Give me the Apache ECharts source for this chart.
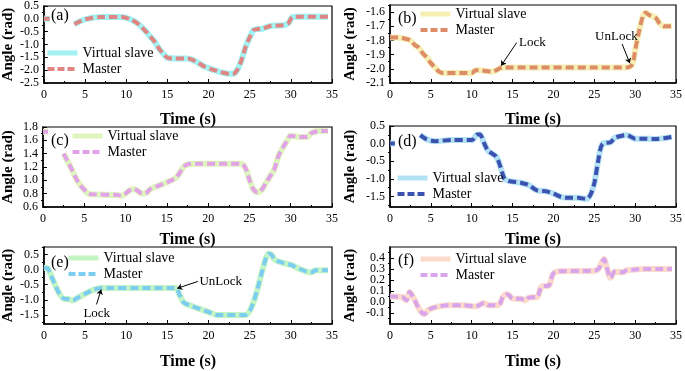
<!DOCTYPE html>
<html>
<head>
<meta charset="utf-8">
<script src="https://cdn.jsdelivr.net/npm/echarts@6/dist/echarts.min.js"></script>
<style>
  html, body { margin: 0; padding: 0; background: #fff; }
  #chart { width: 685px; height: 371px; }
</style>
</head>
<body>
<div id="chart"></div>
<script>
// time (s) / angle (rad); null = part hidden behind the panel label
var timeA = [0, 0.7, 1, 3.7, 5, 7, 9.5, 10.5, 11.5, 12.5, 13, 13.5, 14, 14.5, 15, 16, 17.5, 18.5, 19.5, 21, 22.5, 23, 23.5, 24, 24.5, 25, 25.5, 26, 26.5, 27.5, 29, 29.7, 30.2, 31, 34.5]
var angleA = [0.0, 0.0, null, -0.21, -0.02, 0.07, 0.07, -0.02, -0.21, -0.53, -0.72, -0.91, -1.17, -1.36, -1.51, -1.55, -1.55, -1.67, -1.86, -2.03, -2.14, -2.14, -1.99, -1.61, -1.1, -0.72, -0.43, -0.4, -0.39, -0.28, -0.25, -0.17, 0.07, 0.08, 0.08]

var timeB = [0, 1, 2, 2.5, 3, 3.5, 4, 4.5, 5, 5.5, 6, 6.5, 8, 9.5, 10, 10.5, 11, 12.5, 13, 13.5, 14, 29, 29.5, 29.8, 30, 30.5, 31, 31.3, 31.7, 32.5, 33, 33.5, 34.5]
var angleB = [-1.78, -1.78, -1.79, -1.80, -1.83, -1.85, -1.89, -1.92, -1.96, -1.99, -2.02, -2.03, -2.03, -2.03, -2.03, -2.01, -2.01, -2.02, -2.01, -1.995, -1.99, -1.99, -1.98, -1.94, -1.87, -1.73, -1.62, -1.605, -1.62, -1.64, -1.68, -1.70, -1.70]

var timeC = [0, 0.6, 1, 2.5, 3, 3.5, 4, 4.5, 5, 5.5, 6, 9, 9.5, 10, 10.5, 11, 11.5, 12, 12.5, 13, 14, 15, 16, 16.5, 17, 17.5, 18.5, 24, 24.5, 25, 25.5, 26, 26.5, 27, 27.5, 28, 28.5, 29, 29.5, 30, 31, 32, 32.5, 33.5, 34.5]
var angleC = [1.73, 1.73, null, 1.40, 1.28, 1.16, 1.03, 0.93, 0.86, 0.80, 0.79, 0.78, 0.77, 0.80, 0.85, 0.87, 0.84, 0.80, 0.81, 0.87, 0.92, 0.97, 1.03, 1.10, 1.20, 1.24, 1.25, 1.25, 1.19, 1.01, 0.86, 0.82, 0.86, 0.96, 1.06, 1.16, 1.36, 1.48, 1.58, 1.67, 1.65, 1.65, 1.71, 1.74, 1.74]

var timeD = [0, 0.6, 1, 3.7, 4.5, 5.5, 7.5, 10, 10.7, 11, 11.5, 12, 13, 13.5, 14, 14.5, 16, 17, 18, 19, 20, 21, 22, 23, 24, 24.5, 25, 25.5, 26, 27, 27.5, 28.5, 29, 30, 31, 32.5, 34.5]
var angleD = [0.0, 0.0, null, 0.24, 0.12, 0.07, 0.10, 0.10, 0.26, 0.26, 0.02, -0.20, -0.37, -0.65, -0.99, -1.06, -1.11, -1.18, -1.33, -1.35, -1.42, -1.52, -1.54, -1.54, -1.57, -1.47, -1.13, -0.46, -0.01, 0.04, 0.16, 0.23, 0.24, 0.14, 0.14, 0.13, 0.19]

var timeE = [0, 0.5, 1, 1.5, 2, 2.5, 3, 3.5, 4, 5, 6, 7, 8, 16, 16.5, 17, 18, 19, 20, 21, 24.5, 25, 25.5, 26, 26.5, 27, 27.3, 27.7, 28, 28.5, 29.5, 30, 31, 32, 32.5, 33, 34.5]
var angleE = [0.06, 0.03, -0.28, -0.59, -0.85, -0.97, -0.98, -1.02, -0.95, -0.80, -0.67, -0.61, -0.61, -0.61, -0.85, -1.09, -1.21, -1.31, -1.40, -1.50, -1.50, -1.37, -1.05, -0.59, -0.07, 0.40, 0.53, 0.48, 0.34, 0.27, 0.19, 0.16, 0.03, -0.07, -0.09, -0.02, -0.02]

var timeF = [0, 1.5, 2, 2.4, 2.8, 3.2, 3.7, 4.2, 4.6, 5, 6, 7, 9, 10.5, 11.5, 12, 13, 13.5, 13.8, 14.3, 14.6, 15, 16, 16.5, 17, 18, 18.4, 18.7, 19.3, 19.6, 19.9, 20.3, 21, 25, 25.5, 26, 26.2, 26.5, 27, 27.5, 28.5, 29, 30, 31, 33, 34.5]
var angleF = [0.05, 0.045, 0.016, 0.09, 0.05, -0.01, -0.08, -0.11, -0.08, -0.06, -0.04, -0.03, -0.03, -0.04, -0.01, -0.03, -0.03, -0.01, 0.045, 0.07, 0.06, 0.03, 0.03, 0.016, 0.04, 0.045, 0.12, 0.145, 0.145, 0.17, 0.25, 0.275, 0.28, 0.285, 0.30, 0.37, 0.39, 0.32, 0.22, 0.275, 0.27, 0.29, 0.295, 0.30, 0.30, 0.30]

// y tick labels per panel
var yTicksA = [-2.5, -2.0, -1.5, -1.0, -0.5, 0.0, 0.5]
var yTicksB = [-2.1, -2.0, -1.9, -1.8, -1.7, -1.6]
var yTicksC = [0.6, 0.8, 1.0, 1.2, 1.4, 1.6, 1.8]
var yTicksD = [-1.5, -1.0, -0.5, 0.0, 0.5]
var yTicksE = [-1.5, -1.0, -0.5, 0.0, 0.5]
var yTicksF = [-0.2, -0.1, 0.0, 0.1, 0.2, 0.3, 0.4, 0.5]

var FONT = '"Liberation Serif", "Times New Roman", serif'

var panels = [
  { key: 'a', time: timeA, angle: angleA, ticks: yTicksA, min: -2.5, max: 0.5,
    grid: { left: 43, top: 5, width: 289, height: 78 }, xGap: 29, yGap: 27,
    slave: '#a3f2f2', master: '#e08484', legend: { left: 45, top: 46 }, label: { left: 51, top: 8 } },
  { key: 'b', time: timeB, angle: angleB, ticks: yTicksB, min: -2.1, max: -1.55,
    grid: { left: 390, top: 5, width: 290, height: 78 }, xGap: 29, yGap: 32,
    slave: '#f6efb3', master: '#dc8c68', legend: { left: 418, top: 7 }, label: { left: 398, top: 11 } },
  { key: 'c', time: timeC, angle: angleC, ticks: yTicksC, min: 0.6, max: 1.8,
    grid: { left: 43, top: 127, width: 289, height: 80 }, xGap: 25, yGap: 27,
    slave: '#def4bd', master: '#e2a2e8', legend: { left: 70, top: 129 }, label: { left: 51, top: 133 } },
  { key: 'd', time: timeD, angle: angleD, ticks: yTicksD, min: -1.8, max: 0.5,
    grid: { left: 390, top: 126, width: 290, height: 81 }, xGap: 25, yGap: 32,
    slave: '#b3e2f4', master: '#3d52b0', legend: { left: 395, top: 171 }, label: { left: 398, top: 134 } },
  { key: 'e', time: timeE, angle: angleE, ticks: yTicksE, min: -1.8, max: 0.75,
    grid: { left: 43, top: 247, width: 289, height: 81 }, xGap: 30, yGap: 27,
    slave: '#c3f4c3', master: '#7ccdf0', legend: { left: 66, top: 251 }, label: { left: 51, top: 255 } },
  { key: 'f', time: timeF, angle: angleF, ticks: yTicksF, min: -0.2, max: 0.5,
    grid: { left: 390, top: 247, width: 290, height: 81 }, xGap: 30, yGap: 32,
    slave: '#fbdacb', master: '#d8a4ec', legend: { left: 418, top: 252 }, label: { left: 398, top: 253 } }
]

// Lock / UnLock notes in data coordinates: text anchor, arrow start, arrow end
var notesB = [
  { text: 'Lock', at: [15.8, -1.815], from: [15.5, -1.815], to: [13.6, -1.978] },
  { text: 'UnLock', at: [25.1, -1.775], from: [28.4, -1.825], to: [29.35, -1.96] }
]
var notesE = [
  { text: 'Lock', at: [4.8, -1.47], from: [6.4, -1.15], to: [6.95, -0.66] },
  { text: 'UnLock', at: [18.9, -0.39], from: [18.7, -0.39], to: [16.2, -0.62] }
]

function minors(ticks, min, max) {
  var step = ticks[1] - ticks[0]
  var out = []
  for (var v = ticks[0] - step / 2; v <= max + 1e-9; v += step) {
    if (v >= min - 1e-9) out.push(+v.toFixed(4))
  }
  return out
}

function notesFor(notes) {
  if (!notes) return {}
  return {
    markLine: {
      silent: true,
      symbol: ['none', 'arrow'],
      symbolSize: 5,
      label: { show: false },
      lineStyle: { color: '#000', width: 1, type: 'solid' },
      data: notes.map(function (n) {
        return [{ coord: n.from }, { coord: n.to }]
      })
    },
    markPoint: {
      silent: true,
      symbol: 'circle',
      symbolSize: 0,
      label: {
        show: true, position: [0, 0], align: 'left', verticalAlign: 'middle',
        fontFamily: FONT, fontSize: 13, color: '#000',
        formatter: function (p) { return p.name }
      },
      data: notes.map(function (n) {
        return { name: n.text, coord: n.at }
      })
    }
  }
}

var option = {
  backgroundColor: '#fff',
  animation: false,
  grid: [], xAxis: [], yAxis: [], series: [], legend: [], title: []
}

panels.forEach(function (p, i) {
  var data = p.time.map(function (t, k) {
    return [t, p.angle[k] === null ? '-' : p.angle[k]]
  })
  var axisLine = { onZero: false, lineStyle: { color: '#000', width: 1.5 } }
  var tickLabel = { fontFamily: FONT, fontSize: 12, color: '#000' }
  var nameStyle = { fontFamily: FONT, fontWeight: 'bold', fontSize: 16, color: '#000' }

  option.grid.push(Object.assign({ show: true, borderColor: '#000', borderWidth: 1.2 }, p.grid))
  option.xAxis.push({
    gridIndex: i, type: 'value', min: 0, max: 35, interval: 5,
    axisLine: axisLine,
    axisTick: { inside: true, length: 4, lineStyle: { color: '#000' } },
    minorTick: { show: true, splitNumber: 2, length: 2, lineStyle: { color: '#000' } },
    splitLine: { show: false },
    axisLabel: Object.assign({ margin: 6 }, tickLabel),
    name: 'Time (s)', nameLocation: 'middle', nameGap: p.xGap, nameTextStyle: nameStyle
  })
  option.yAxis.push({
    gridIndex: i, type: 'value', min: p.min, max: p.max,
    axisLine: axisLine,
    axisTick: { inside: true, length: 4, customValues: p.ticks, lineStyle: { color: '#000' } },
    splitLine: { show: false },
    axisLabel: Object.assign({
      margin: 5, customValues: p.ticks,
      formatter: function (v) { return v.toFixed(1) }
    }, tickLabel),
    name: 'Angle (rad)', nameLocation: 'middle', nameGap: p.yGap,
    nameTextStyle: Object.assign({}, nameStyle, { fontSize: 15 })
  })
  option.yAxis.push({
    gridIndex: i, type: 'value', min: p.min, max: p.max,
    axisLine: { show: false },
    axisTick: { inside: true, length: 2, customValues: minors(p.ticks, p.min, p.max), lineStyle: { color: '#000' } },
    axisLabel: { show: false },
    splitLine: { show: false }
  })

  var notes = p.key === 'b' ? notesB : (p.key === 'e' ? notesE : null)
  option.series.push({
    name: 'Virtual slave|' + p.key, type: 'line', xAxisIndex: i, yAxisIndex: 2 * i,
    data: data, symbol: 'none', smooth: 0.3, z: 2,
    lineStyle: { color: p.slave, width: 6 }, itemStyle: { color: p.slave }
  })
  option.series.push(Object.assign({
    name: 'Master|' + p.key, type: 'line', xAxisIndex: i, yAxisIndex: 2 * i,
    data: data, symbol: 'none', smooth: 0.3, z: 3,
    lineStyle: { color: p.master, width: 4, type: [8, 4] }, itemStyle: { color: p.master }
  }, notesFor(notes)))

  option.legend.push({
    left: p.legend.left, top: p.legend.top, orient: 'vertical', padding: 0,
    itemWidth: 30, itemHeight: 14, itemGap: 2,
    data: [
      { name: 'Virtual slave|' + p.key, lineStyle: { color: p.slave, width: 5 } },
      { name: 'Master|' + p.key, lineStyle: { color: p.master, width: 4, type: [7, 3] } }
    ],
    formatter: function (name) { return name.split('|')[0] },
    itemStyle: { opacity: 0 },
    textStyle: { fontFamily: FONT, fontSize: 14, color: '#000' },
    selectedMode: false
  })
  option.title.push({
    text: '(' + p.key + ')', left: p.label.left, top: p.label.top, padding: 0,
    textStyle: { fontFamily: FONT, fontSize: 16, fontWeight: 'normal', color: '#000' }
  })
})

var chart = echarts.init(document.getElementById('chart'))
chart.setOption(option)
</script>
</body>
</html>
